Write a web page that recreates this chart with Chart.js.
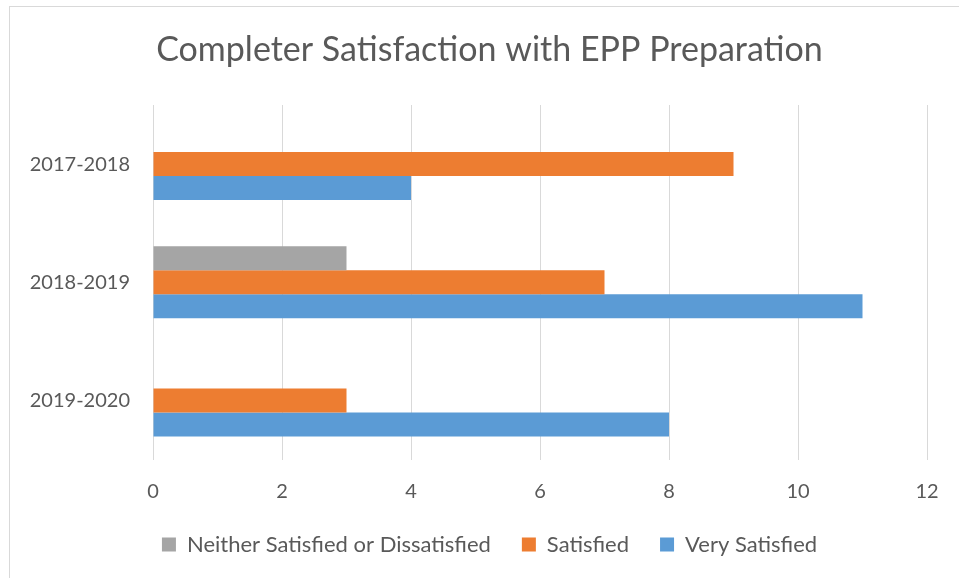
<!DOCTYPE html>
<html>
<head>
<meta charset="utf-8">
<script src="https://cdn.jsdelivr.net/npm/chart.js@4/dist/chart.umd.min.js"></script>
<style>
  html, body { margin: 0; padding: 0; background: #fff; }
  #wrap { width: 959px; height: 578px; }
</style>
</head>
<body>
<div id="wrap"><canvas id="chart" width="959" height="578"></canvas></div>
<script>
// values
const years = ['2017-2018', '2018-2019', '2019-2020'];
const neitherCounts = [null, 3, null];
const satisfiedCounts = [9, 7, 3];
const verySatisfiedCounts = [4, 11, 8];
const seriesNames = ['Neither Satisfied or Dissatisfied', 'Satisfied', 'Very Satisfied'];

const textColor = '#595959';
const gridColor = '#D9D9D9';
const fontFamily = 'Lato, "Open Sans", sans-serif';

// light frame around the whole chart, like the Excel chart area
const framePlugin = {
  id: 'frame',
  beforeDraw(chart) {
    const ctx = chart.ctx;
    ctx.save();
    ctx.fillStyle = '#fff';
    ctx.fillRect(0, 0, chart.width, chart.height);
    ctx.strokeStyle = gridColor;
    ctx.lineWidth = 1;
    ctx.strokeRect(9.5, 6.5, 1200, 1200);
    ctx.restore();
  }
};

new Chart(document.getElementById('chart').getContext('2d'), {
  type: 'bar',
  data: {
    labels: years,
    datasets: [
      { label: seriesNames[0], data: neitherCounts, backgroundColor: '#A5A5A5' },
      { label: seriesNames[1], data: satisfiedCounts, backgroundColor: '#ED7D31' },
      { label: seriesNames[2], data: verySatisfiedCounts, backgroundColor: '#5B9BD5' }
    ]
  },
  options: {
    indexAxis: 'y',
    responsive: false,
    animation: false,
    layout: { padding: { left: 20, right: 0, top: 0, bottom: 12.5 } },
    datasets: {
      bar: { barPercentage: 1, categoryPercentage: 0.61 }
    },
    scales: {
      x: {
        min: 0,
        max: 12,
        ticks: { stepSize: 2, color: textColor, padding: 20, font: { family: fontFamily, size: 20 } },
        grid: { color: gridColor, lineWidth: 1, drawTicks: false },
        border: { display: false },
        afterFit(scale) { scale.height = 43; }
      },
      y: {
        ticks: { color: textColor, padding: 23, font: { family: fontFamily, size: 20 } },
        grid: { display: false, drawTicks: false },
        border: { display: false },
        afterFit(scale) { scale.width = 133; }
      },
      // empty right-hand axis, only to keep the plot area off the right edge
      yRight: {
        type: 'category',
        labels: years,
        position: 'right',
        ticks: { display: false },
        grid: { display: false, drawTicks: false },
        border: { display: false },
        afterFit(scale) { scale.width = 32; }
      }
    },
    plugins: {
      title: {
        display: true,
        text: 'Completer Satisfaction with EPP Preparation',
        color: textColor,
        font: { family: fontFamily, size: 34, weight: 'normal', lineHeight: 1.2 },
        padding: { top: 29.6, bottom: 34.6 }
      },
      legend: {
        position: 'bottom',
        labels: {
          color: textColor,
          boxWidth: 14,
          boxHeight: 14,
          padding: 31,
          font: { family: fontFamily, size: 22 }
        }
      },
      tooltip: { enabled: false }
    }
  },
  plugins: [framePlugin]
});
</script>
</body>
</html>
